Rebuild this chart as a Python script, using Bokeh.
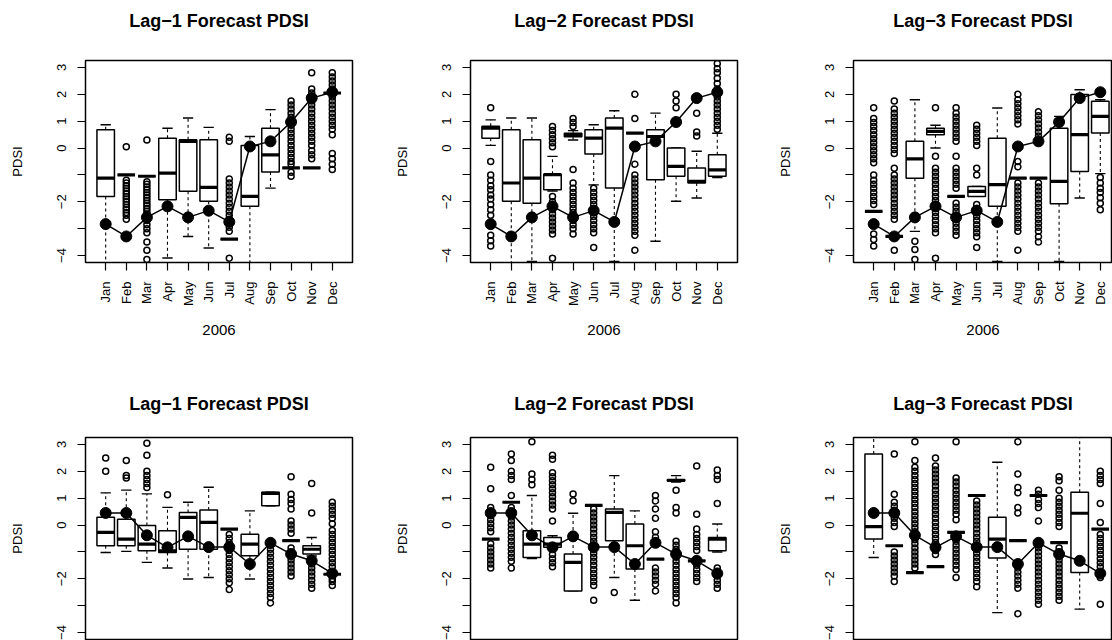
import math
from bokeh.plotting import figure
from bokeh.models import Range1d, FixedTicker, ColumnDataSource, LinearAxis
from bokeh.layouts import row, column
from bokeh.embed import file_html
from bokeh.resources import INLINE

MONTHS = ["Jan", "Feb", "Mar", "Apr", "May", "Jun",
          "Jul", "Aug", "Sep", "Oct", "Nov", "Dec"]
YEAR_LABEL = "2006"
TITLES = ["Lag\u22121 Forecast PDSI", "Lag\u22122 Forecast PDSI", "Lag\u22123 Forecast PDSI"]
Y_LABEL = "PDSI"

# Observed monthly PDSI (first row)
obs_top = [-2.83, -3.29, -2.58, -2.17, -2.58, -2.33, -2.75, 0.06, 0.25, 0.97, 1.86, 2.08]
# Observed monthly PDSI (second row)
obs_bot = [0.45, 0.45, -0.38, -0.83, -0.42, -0.82, -0.82, -1.45, -0.66, -1.08, -1.33, -1.8]

# ---- row 1, lag-1 forecasts: whisker low, Q1, median, Q3, whisker high, outliers
t1_lo = [-4.5, -1.0, -1.05, -4.09, -3.29, -3.72, -3.39, -4.5, -1.49, -0.74, -0.74, 2.05]
t1_q1 = [-1.80, -1.0, -1.05, -1.92, -1.61, -1.98, -3.39, -2.17, -0.89, -0.74, -0.74, 2.05]
t1_med = [-1.12, -1.0, -1.05, -0.93, 0.25, -1.46, -3.39, -1.80, -0.25, -0.74, -0.74, 2.05]
t1_q3 = [0.68, -1.0, -1.05, 0.37, 0.31, 0.31, -3.39, 0.10, 0.74, -0.74, -0.74, 2.05]
t1_hi = [0.87, -1.0, -1.05, 0.74, 1.12, 0.77, -3.39, 0.43, 1.43, -0.74, -0.74, 2.05]
t1_out = [
    [],
    [0.05, -1.2, -1.3, -1.4, -1.5, -1.6, -1.7, -1.8, -1.9, -2.0, -2.1, -2.2, -2.3, -2.4, -2.5, -2.65],
    [0.3, -1.25, -1.35, -1.45, -1.55, -1.65, -1.75, -1.85, -1.95, -2.05, -2.15, -2.25, -2.35,
     -2.45, -2.55, -2.7, -2.85, -3.0, -3.15, -3.5, -3.8, -4.15],
    [],
    [],
    [],
    [0.4, 0.25, -1.15, -1.3, -1.45, -1.6, -1.75, -1.9, -2.05, -2.2, -2.35, -2.5, -2.65, -2.8,
     -2.95, -3.1, -4.1],
    [],
    [],
    [1.75, 1.6, 1.45, 1.3, 1.15, 1.0, 0.85, 0.7, 0.55, 0.4, 0.25, 0.1, -0.05, -0.2, -0.35,
     -0.5, -0.6, -0.9, -1.05],
    [2.8, 2.2, 2.05, 1.9, 1.75, 1.6, 1.45, 1.3, 1.15, 1.0, 0.85, 0.7, 0.55, 0.4, 0.25, 0.1,
     -0.1, -0.25, -0.4],
    [2.8, 2.65, 2.5, 2.35, 2.2, 1.9, 1.75, 1.6, 1.45, 1.3, 1.15, 1.0, 0.85, 0.7, 0.5, -0.2,
     -0.4, -0.6, -0.8],
]

# ---- row 1, lag-2 forecasts
t2_lo = [0.10, -4.5, -4.22, -1.60, 0.30, -1.37, -4.22, 0.56, -3.47, -1.98, -1.86, -1.10]
t2_q1 = [0.37, -1.98, -2.05, -1.55, 0.42, -0.22, -1.49, 0.56, -1.18, -1.05, -1.30, -1.05]
t2_med = [0.74, -1.30, -1.12, -0.99, 0.50, 0.37, 0.74, 0.56, 0.43, -0.68, -1.24, -0.81]
t2_q3 = [0.81, 0.68, 0.31, -0.97, 0.55, 0.68, 1.12, 0.56, 0.68, 0.00, -0.74, -0.25]
t2_hi = [1.05, 1.12, 1.12, -0.31, 0.65, 0.87, 1.39, 0.56, 1.30, 0.00, -0.12, 0.55]
t2_out = [
    [1.5, -0.5, -1.0, -1.2, -1.4, -1.55, -1.75, -1.9, -2.1, -2.3, -2.5, -2.9, -3.25, -3.45, -3.65],
    [],
    [],
    [0.8, 0.65, 0.5, 0.35, 0.2, 0.05, -1.8, -2.0, -2.15, -2.3, -2.45, -2.6, -2.75, -2.9,
     -3.05, -3.2, -4.1],
    [1.1, 0.95, 0.8, -0.8, -1.3, -1.5, -1.65, -1.8, -1.95, -2.1, -2.25, -2.4, -2.55, -2.7,
     -2.85, -3.0, -3.2],
    [-1.5, -1.65, -1.8, -1.95, -2.1, -2.25, -2.4, -2.55, -2.7, -2.85, -3.0, -3.15, -3.7],
    [],
    [2.0, 1.1, 0.0, -0.6, -1.0, -1.15, -1.3, -1.45, -1.6, -1.75, -1.9, -2.05, -2.2, -2.35,
     -2.5, -2.65, -2.8, -2.95, -3.1, -3.25, -3.8],
    [],
    [2.0, 1.75, 1.5],
    [1.3, 0.6, 0.45],
    [3.15, 2.95, 2.8, 2.6, 2.4, 2.2, 1.9, 1.75, 1.6, 1.45, 1.3, 1.15, 1.0, 0.85, 0.7],
]

# ---- row 1, lag-3 forecasts
t3_lo = [-2.36, -3.29, -3.10, 0.00, -1.80, -1.80, -4.22, -1.12, -1.12, -4.22, -1.86, -0.95]
t3_q1 = [-2.36, -3.29, -1.12, 0.50, -1.80, -1.80, -2.17, -1.12, -1.12, -2.07, -0.87, 0.56]
t3_med = [-2.36, -3.29, -0.40, 0.62, -1.80, -1.61, -1.36, -1.12, -1.12, -1.24, 0.50, 1.18]
t3_q3 = [-2.36, -3.29, 0.25, 0.74, -1.80, -1.43, 0.37, -1.12, -1.12, 0.74, 1.99, 1.74]
t3_hi = [-2.36, -3.29, 1.80, 0.85, -1.80, -1.43, 1.49, -1.12, -1.12, 1.18, 2.17, 1.80]
t3_out = [
    [1.5, 1.1, 0.95, 0.8, 0.65, 0.5, 0.35, 0.2, 0.05, -0.1, -0.25, -0.4, -0.55, -1.0, -1.2,
     -1.35, -1.5, -1.65, -1.8, -1.95, -2.1, -3.2, -3.4, -3.65],
    [1.75, 1.45, 1.3, 1.15, 1.0, 0.85, 0.7, 0.55, 0.4, 0.25, 0.1, -0.05, -0.2, -0.75, -1.0,
     -1.15, -1.3, -1.45, -1.6, -1.75, -1.9, -2.05, -2.2, -2.35, -2.5, -2.65, -3.8],
    [-3.47, -3.78, -4.15],
    [1.5, -0.3, -0.75, -0.9, -1.05, -1.2, -1.35, -1.5, -1.65, -1.8, -1.95, -2.1, -2.25, -2.4,
     -2.55, -2.7, -2.85, -3.0, -3.15, -4.1],
    [1.5, 1.3, 1.15, 1.0, 0.85, 0.7, 0.55, 0.4, 0.25, -0.3, -0.75, -0.9, -1.05, -1.2, -1.35,
     -1.5, -2.05, -2.2, -2.35, -2.5, -2.65, -2.8, -2.95, -3.1, -3.25],
    [0.85, 0.7, 0.55, 0.4, 0.25, 0.1, -0.75, -1.0, -2.1, -2.25, -2.4, -2.55, -2.7, -2.85,
     -3.0, -3.15, -3.3, -3.7],
    [],
    [2.0, 1.8, 1.65, 1.5, 1.35, 1.2, 1.05, 0.9, -0.5, -0.7, -1.3, -1.45, -1.6, -1.75, -1.9,
     -2.05, -2.2, -2.35, -2.5, -2.65, -2.8, -2.95, -3.1, -3.8],
    [1.35, 1.2, 1.05, 0.9, 0.75, 0.6, 0.45, -1.3, -1.45, -1.6, -1.75, -1.9, -2.05, -2.2,
     -2.35, -2.5, -2.65, -2.8, -2.95, -3.1, -3.3, -3.5],
    [],
    [],
    [-1.1, -1.3, -1.5, -1.65, -1.85, -2.05, -2.3],
]

# ---- row 2, lag-1 forecasts
b1_lo = [-1.02, -0.98, -1.39, -1.60, -2.01, -1.95, -0.15, -2.01, 0.72, -0.58, -1.15, -1.83]
b1_q1 = [-0.77, -0.77, -0.96, -1.02, -0.90, -0.90, -0.15, -1.14, 0.72, -0.58, -1.08, -1.83]
b1_med = [-0.27, -0.52, -0.71, -0.96, 0.29, 0.10, -0.15, -0.71, 1.18, -0.58, -0.90, -1.83]
b1_q3 = [0.29, 0.22, -0.02, -0.21, 0.47, 0.56, -0.15, -0.34, 1.22, -0.58, -0.77, -1.83]
b1_hi = [1.20, 1.30, 1.16, 0.66, 0.85, 1.41, -0.15, 0.53, 1.22, -0.58, -0.46, -1.83]
b1_out = [
    [2.5, 2.0],
    [2.4, 1.85, 1.75],
    [3.05, 2.6, 2.0, 1.85, 1.7, 1.55, 1.4],
    [1.13],
    [],
    [],
    [-0.35, -0.5, -0.65, -0.8, -0.95, -1.1, -1.25, -1.4, -1.55, -1.7, -1.85, -2.0, -2.15, -2.4],
    [],
    [-0.75, -0.9, -1.05, -1.2, -1.35, -1.5, -1.65, -1.8, -1.95, -2.1, -2.25, -2.4, -2.55,
     -2.7, -2.9],
    [1.8, 1.15, 0.95, 0.8, 0.6, 0.15, 0.0, -0.15, -0.3, -0.85, -1.0, -1.15, -1.3, -1.45,
     -1.6, -1.75, -1.9],
    [1.55, 0.45, -1.3, -1.45, -1.6, -1.75, -1.9, -2.05, -2.2, -2.35],
    [0.85, 0.7, 0.55, 0.4, 0.25, 0.05, -0.2, -0.35, -0.5, -0.65, -0.8, -0.95, -1.1, -1.25,
     -1.4, -1.55, -2.0, -2.1, -2.25],
]

# ---- row 2, lag-2 forecasts
b2_lo = [-0.52, 0.85, -1.25, -0.90, -2.45, 0.73, -1.95, -2.80, -1.27, 1.60, -1.33, -1.00]
b2_q1 = [-0.52, 0.85, -1.21, -0.83, -2.45, 0.73, -0.58, -1.64, -1.27, 1.64, -1.33, -0.96]
b2_med = [-0.52, 0.85, -0.71, -0.71, -1.39, 0.73, 0.47, -0.77, -1.27, 1.66, -1.33, -0.52]
b2_q3 = [-0.52, 0.85, -0.21, -0.46, -1.08, 0.73, 0.60, 0.04, -1.27, 1.70, -1.33, -0.46]
b2_hi = [-0.52, 0.85, 1.10, -0.40, 0.44, 0.73, 1.84, 0.53, -1.27, 1.84, -1.33, 0.04]
b2_out = [
    [2.15, 1.35, 0.65, 0.5, 0.35, 0.2, 0.05, -0.1, -0.25, -0.7, -0.85, -1.0, -1.15, -1.3,
     -1.45, -1.6],
    [2.65, 2.4, 2.0, 1.85, 1.7, 1.1, 0.65, 0.5, 0.3, 0.15, 0.0, -0.15, -0.3, -0.45, -0.6,
     -0.75, -0.9, -1.05, -1.2, -1.35, -1.6],
    [3.1, 1.9, 1.7, 1.5],
    [2.6, 2.45, 1.95, 1.8, 1.65, 1.5, 1.35, 1.2, 1.05, 0.9, 0.75, 0.6, 0.15, -1.1, -1.25,
     -1.4, -1.55],
    [1.16, 0.91],
    [0.6, 0.45, 0.3, 0.15, 0.0, -0.15, -0.3, -0.45, -0.6, -0.75, -0.9, -1.05, -1.2, -1.35,
     -1.5, -1.65, -1.8, -1.95, -2.1, -2.25, -2.8],
    [-2.51],
    [],
    [1.1, 0.9, 0.6, 0.25, -0.25, -0.45, -0.6, -1.6, -1.75, -1.9, -2.05, -2.2, -2.45],
    [1.3, 0.65, 0.45, -0.6, -0.75, -0.9, -1.05, -1.2, -1.35, -1.5, -1.65, -1.8, -1.95, -2.1,
     -2.25, -2.4, -2.55, -2.7, -2.9],
    [2.2, 0.4, -0.15, -0.35, -0.5, -0.65, -0.8, -0.95, -1.5, -1.65, -1.8, -1.95, -2.1],
    [2.05, 1.85, 1.7, 0.8, -1.6, -1.75, -1.9, -2.05, -2.2, -2.35],
]

# ---- row 2, lag-3 forecasts
b3_lo = [-1.21, -0.77, -1.77, -1.55, -0.27, 1.10, -3.26, -0.58, 1.10, -0.65, -3.13, -0.15]
b3_q1 = [-0.52, -0.77, -1.77, -1.55, -0.27, 1.10, -1.23, -0.58, 1.10, -0.65, -1.77, -0.15]
b3_med = [-0.06, -0.77, -1.77, -1.55, -0.27, 1.10, -0.52, -0.58, 1.10, -0.65, 0.44, -0.15]
b3_q3 = [2.65, -0.77, -1.77, -1.55, -0.27, 1.10, 0.29, -0.58, 1.10, -0.65, 1.22, -0.15]
b3_hi = [3.50, -0.77, -1.77, -1.55, -0.27, 1.10, 2.34, -0.58, 1.10, -0.65, 3.50, -0.15]
b3_out = [
    [],
    [2.65, 1.15, 0.85, 0.7, 0.55, 0.4, 0.25, 0.1, -0.05, -1.0, -1.15, -1.3, -1.45, -1.6,
     -1.75, -1.9, -2.1],
    [3.1, 2.4, 2.15, 2.0, 1.85, 1.7, 1.55, 1.4, 1.25, 1.1, 0.95, 0.8, 0.65, 0.5, 0.35, 0.2,
     0.05, -0.1, -0.25, -0.4, -0.55, -0.7, -0.85, -1.0, -1.15, -1.3, -1.45, -1.6],
    [2.5, 2.2, 2.05, 1.9, 1.75, 1.6, 1.45, 1.3, 1.15, 1.0, 0.85, 0.7, 0.55, 0.4, 0.25, 0.1,
     -0.05, -0.2, -0.35, -0.5, -0.65, -0.8, -0.95, -1.1],
    [3.1, 1.75, 1.6, 1.45, 1.3, 1.15, 1.0, 0.85, 0.7, 0.55, 0.4, 0.2, -0.6, -0.75, -0.9,
     -1.05, -1.2, -1.35, -1.5, -1.65, -1.95],
    [0.9, 0.75, 0.6, 0.45, 0.3, 0.15, 0.0, -0.15, -0.3, -0.45, -0.6, -0.75, -0.9, -1.05,
     -1.2, -1.35, -1.5, -1.65, -1.8, -1.95, -2.1, -2.3],
    [],
    [3.1, 1.9, 1.4, 1.2, 0.65, 0.45, -1.6, -1.75, -1.9, -2.05, -2.2, -2.35, -3.3],
    [1.3, 1.15, 0.95, 0.8, 0.65, 0.15, -0.85, -1.0, -1.15, -1.3, -1.45, -1.6, -1.75, -1.9,
     -2.05, -2.2, -2.35, -2.5, -2.65, -2.8, -2.95],
    [1.8, 1.65, 1.3, 1.0, 0.85, 0.7, 0.55, 0.4, 0.25, 0.1, -0.05, -0.85, -1.0, -1.15, -1.3,
     -1.45, -1.6, -1.75, -1.9, -2.05, -2.2, -2.35, -2.5, -2.65, -2.8],
    [],
    [2.0, 1.85, 1.7, 1.55, 0.8, 0.1, -0.35, -0.5, -0.65, -0.8, -0.95, -1.1, -1.25, -1.4,
     -1.55, -1.95, -2.95],
]

FONT = "Liberation Sans"
BOX_W = 0.85
CAP_W = 0.5
PX_PER_MONTH = 20.6
X_START = 0.02
Y_LO, Y_HI = -4.26, 3.26


def panel(title, lo, q1, med, q3, hi, out, obs, width, border_right, height,
          border_bottom, show_xaxis, title_gap):
    frame_w = width - 85 - border_right
    x_end = X_START + frame_w / PX_PER_MONTH
    p = figure(width=width, height=height,
               x_range=Range1d(X_START, x_end), y_range=Range1d(Y_LO, Y_HI),
               output_backend="svg", toolbar_location=None,
               min_border_left=85, min_border_right=border_right,
               min_border_top=60, min_border_bottom=border_bottom)
    p.grid.visible = False
    p.background_fill_color = "white"
    p.border_fill_color = "white"
    p.outline_line_color = "black"
    p.outline_line_width = 1.5

    # panel heading: a tick-less axis above the frame carries the title text
    head = LinearAxis(ticker=FixedTicker(ticks=[]), axis_label=title,
                      axis_line_color=None, major_tick_out=0, major_tick_in=0,
                      minor_tick_out=0, minor_tick_in=0, major_label_standoff=0,
                      axis_label_standoff=title_gap,
                      axis_label_text_font=FONT, axis_label_text_font_size="18px",
                      axis_label_text_font_style="bold", axis_label_text_color="black")
    p.add_layout(head, "above")

    xs = list(range(1, 13))
    src = ColumnDataSource(dict(
        x=xs, left=[x - BOX_W / 2 for x in xs], right=[x + BOX_W / 2 for x in xs],
        cl=[x - CAP_W / 2 for x in xs], cr=[x + CAP_W / 2 for x in xs],
        lo=lo, q1=q1, med=med, q3=q3, hi=hi))

    # whiskers (dashed) and staples
    p.segment(x0="x", y0="q3", x1="x", y1="hi", source=src,
              line_color="black", line_width=1.1, line_dash="3 3")
    p.segment(x0="x", y0="q1", x1="x", y1="lo", source=src,
              line_color="black", line_width=1.1, line_dash="3 3")
    p.segment(x0="cl", y0="hi", x1="cr", y1="hi", source=src,
              line_color="black", line_width=1.4)
    p.segment(x0="cl", y0="lo", x1="cr", y1="lo", source=src,
              line_color="black", line_width=1.4)
    # boxes and medians
    p.quad(left="left", right="right", bottom="q1", top="q3", source=src,
           fill_color="white", line_color="black", line_width=1.5)
    p.segment(x0="left", y0="med", x1="right", y1="med", source=src,
              line_color="black", line_width=3.2)

    # outlying forecasts
    ox, oy = [], []
    for i, vals in enumerate(out):
        ox.extend([i + 1] * len(vals))
        oy.extend(vals)
    p.scatter(ox, oy, marker="circle", size=6, fill_color=None,
              line_color="black", line_width=1.5)

    # observed PDSI
    p.line(xs, obs, line_color="black", line_width=1.5)
    p.scatter(xs, obs, marker="circle", size=11, fill_color="black", line_color="black")

    # axes
    yax = p.yaxis[0]
    yax.ticker = FixedTicker(ticks=list(range(-4, 4)))
    yax.major_label_overrides = {3: "3", 2: "2", 1: "1", 0: "0", -1: "",
                                 -2: "\u22122", -3: "", -4: "\u22124"}
    yax.major_label_orientation = "parallel"
    yax.axis_label = Y_LABEL
    yax.axis_label_text_font = FONT
    yax.axis_label_text_font_size = "13px"
    yax.axis_label_text_font_style = "normal"
    yax.axis_label_standoff = 30

    xax = p.below[0]
    xax.ticker = FixedTicker(ticks=xs)
    xax.major_label_overrides = {i + 1: m for i, m in enumerate(MONTHS)}
    xax.major_label_orientation = math.pi / 2
    xax.axis_label = YEAR_LABEL
    xax.axis_label_text_font = FONT
    xax.axis_label_text_font_size = "15px"
    xax.axis_label_text_font_style = "normal"
    xax.axis_label_standoff = 16

    for ax in (xax, yax):
        ax.axis_line_color = None
        ax.major_tick_out = 8
        ax.major_tick_in = 0
        ax.major_tick_line_color = "black"
        ax.major_tick_line_width = 1.2
        ax.minor_tick_line_color = None
        ax.major_label_text_font = FONT
        ax.major_label_text_font_size = "13px"
        ax.major_label_text_color = "black"
        ax.axis_label_text_color = "black"
        ax.major_label_standoff = 11
    xax.visible = show_xaxis
    return p


top_sets = [(t1_lo, t1_q1, t1_med, t1_q3, t1_hi, t1_out),
            (t2_lo, t2_q1, t2_med, t2_q3, t2_hi, t2_out),
            (t3_lo, t3_q1, t3_med, t3_q3, t3_hi, t3_out)]
bot_sets = [(b1_lo, b1_q1, b1_med, b1_q3, b1_hi, b1_out),
            (b2_lo, b2_q1, b2_med, b2_q3, b2_hi, b2_out),
            (b3_lo, b3_q1, b3_med, b3_q3, b3_hi, b3_out)]
col_widths = [385, 383, 344]
col_right = [33, 31, 0]

top_row = [panel(TITLES[i], *top_sets[i], obs_top, col_widths[i], col_right[i], 377, 115,
                 True, 30) for i in range(3)]
bot_row = [panel(TITLES[i], *bot_sets[i], obs_bot, col_widths[i], col_right[i], 263, 1,
                 False, 24) for i in range(3)]

layout = column(row(*top_row), row(*bot_row))
open("out.html", "w").write(file_html(layout, INLINE))
